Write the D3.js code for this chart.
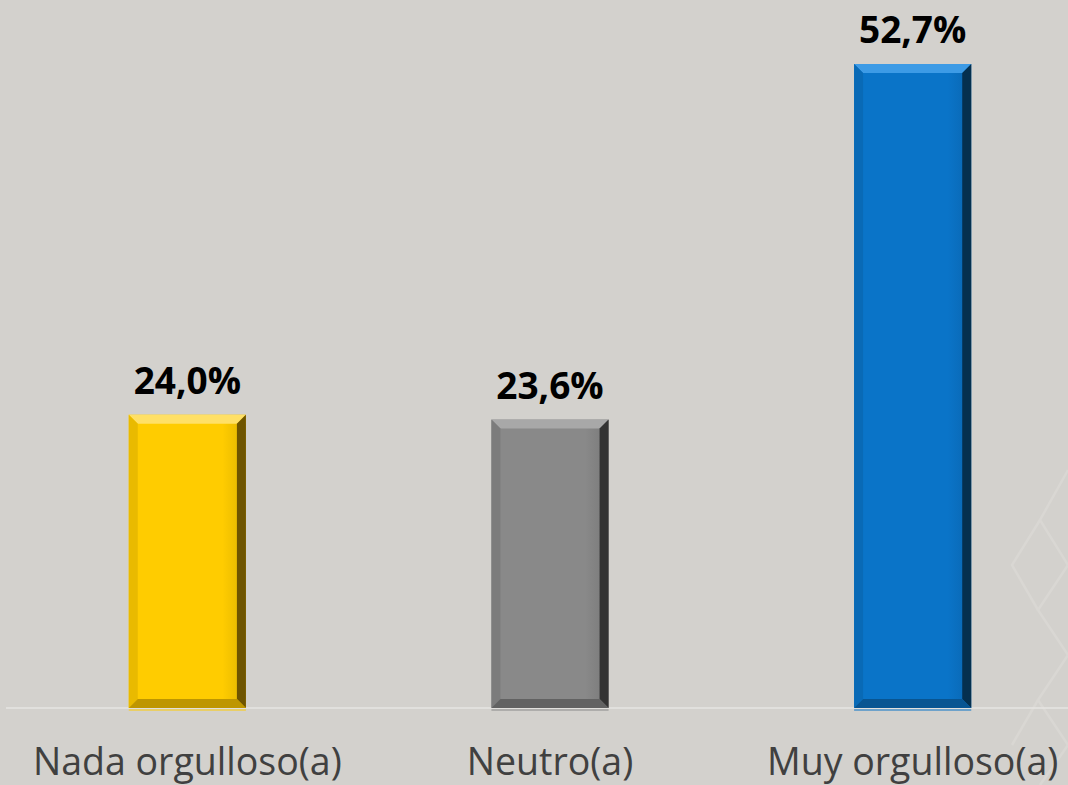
<!DOCTYPE html>
<html>
<head>
<meta charset="utf-8">
<script src="https://cdn.jsdelivr.net/npm/d3@7"></script>
<style>
  html, body { margin: 0; padding: 0; background: #d3d1cd; }
  #chart { width: 1068px; height: 785px; }
</style>
</head>
<body>
<div id="chart"></div>
<script>
// data
let categories = ["Nada orgulloso(a)", "Neutro(a)", "Muy orgulloso(a)"];
let values = [24.0, 23.6, 52.7];
let valueLabels = ["24,0%", "23,6%", "52,7%"];
let faceColors = ["#ffcc00", "#898989", "#0a74c8"];
let lightColors = ["#ffe066", "#a8a8a8", "#3d9be6"];
let darkColors = ["#6e5400", "#333333", "#05304f"];

let width = 1068;
let height = 785;

let svg = d3.select("#chart")
    .append("svg")
    .attr("width", width)
    .attr("height", height);

svg.append("rect")
    .attr("width", width)
    .attr("height", height)
    .attr("fill", "#d3d1cd");

// faint decoration on the right edge
let deco = svg.append("g")
    .attr("fill", "none")
    .attr("stroke", "#d9d7d3")
    .attr("stroke-width", 2.5);
deco.append("path").attr("d", "M1068,470 L1040,520 L1068,565 L1038,610 L1068,655 L1038,700 L1068,745 L1040,785");
deco.append("path").attr("d", "M1040,520 L1012,565 L1038,610 M1038,700 L1012,745");

// scales
let xScale = d3.scaleBand()
    .domain(categories)
    .range([6, 1094])
    .paddingInner(0.677)
    .paddingOuter(0.3385);

let yScale = d3.scaleLinear()
    .domain([0, 52.7])
    .range([708, 64]);

// baseline
svg.append("line")
    .attr("x1", 6)
    .attr("x2", width)
    .attr("y1", yScale(0))
    .attr("y2", yScale(0))
    .attr("stroke", "#e6e5e2")
    .attr("stroke-width", 1.5);

let defs = svg.append("defs");
categories.forEach(function (c, i) {
    let g = defs.append("linearGradient")
        .attr("id", "face" + i)
        .attr("x1", "0").attr("x2", "1").attr("y1", "0").attr("y2", "0");
    g.append("stop").attr("offset", "0").attr("stop-color", faceColors[i]);
    g.append("stop").attr("offset", "0.8").attr("stop-color", faceColors[i]);
    g.append("stop").attr("offset", "1").attr("stop-color", d3.color(faceColors[i]).darker(0.35));
});

let bev = 9;
let bars = svg.selectAll(".bar")
    .data(values)
    .enter()
    .append("g")
    .attr("class", "bar");

// reflection line under bar
bars.append("rect")
    .attr("x", function (d, i) { return xScale(categories[i]); })
    .attr("y", yScale(0) + 1)
    .attr("width", xScale.bandwidth())
    .attr("height", 2)
    .attr("fill", function (d, i) { return faceColors[i]; })
    .attr("opacity", 0.5);

bars.append("rect")
    .attr("x", function (d, i) { return xScale(categories[i]); })
    .attr("y", function (d) { return yScale(d); })
    .attr("width", xScale.bandwidth())
    .attr("height", function (d) { return yScale(0) - yScale(d); })
    .attr("fill", function (d, i) { return "url(#face" + i + ")"; });

function bevelPath(d, i, side) {
    let x0 = xScale(categories[i]);
    let x1 = x0 + xScale.bandwidth();
    let y0 = yScale(d);
    let y1 = yScale(0);
    if (side === "top") return `M${x0},${y0} L${x1},${y0} L${x1 - bev},${y0 + bev} L${x0 + bev},${y0 + bev} Z`;
    if (side === "left") return `M${x0},${y0} L${x0 + bev},${y0 + bev} L${x0 + bev},${y1 - bev} L${x0},${y1} Z`;
    if (side === "right") return `M${x1},${y0} L${x1},${y1} L${x1 - bev},${y1 - bev} L${x1 - bev},${y0 + bev} Z`;
    return `M${x0},${y1} L${x1},${y1} L${x1 - bev},${y1 - bev} L${x0 + bev},${y1 - bev} Z`;
}

bars.append("path")
    .attr("d", function (d, i) { return bevelPath(d, i, "top"); })
    .attr("fill", function (d, i) { return lightColors[i]; });
bars.append("path")
    .attr("d", function (d, i) { return bevelPath(d, i, "left"); })
    .attr("fill", function (d, i) { return d3.interpolateRgb(faceColors[i], darkColors[i])(0.15); });
bars.append("path")
    .attr("d", function (d, i) { return bevelPath(d, i, "right"); })
    .attr("fill", function (d, i) { return darkColors[i]; });
bars.append("path")
    .attr("d", function (d, i) { return bevelPath(d, i, "bottom"); })
    .attr("fill", function (d, i) { return d3.interpolateRgb(faceColors[i], darkColors[i])(0.45); });

// value labels
svg.selectAll(".valueLabel")
    .data(values)
    .enter()
    .append("text")
    .attr("class", "valueLabel")
    .attr("text-anchor", "middle")
    .attr("x", function (d, i) { return xScale(categories[i]) + xScale.bandwidth() / 2; })
    .attr("y", function (d) { return yScale(d) - 21; })
    .attr("font-family", "Open Sans")
    .attr("font-weight", "bold")
    .attr("font-size", 37)
    .attr("fill", "#000")
    .text(function (d, i) { return valueLabels[i]; });

// category labels
svg.selectAll(".catLabel")
    .data(categories)
    .enter()
    .append("text")
    .attr("class", "catLabel")
    .attr("text-anchor", "middle")
    .attr("x", function (d) { return xScale(d) + xScale.bandwidth() / 2; })
    .attr("y", 775)
    .attr("font-family", "Open Sans")
    .attr("font-size", 37.5)
    .attr("fill", "#404040")
    .text(function (d) { return d; });
</script>
</body>
</html>
